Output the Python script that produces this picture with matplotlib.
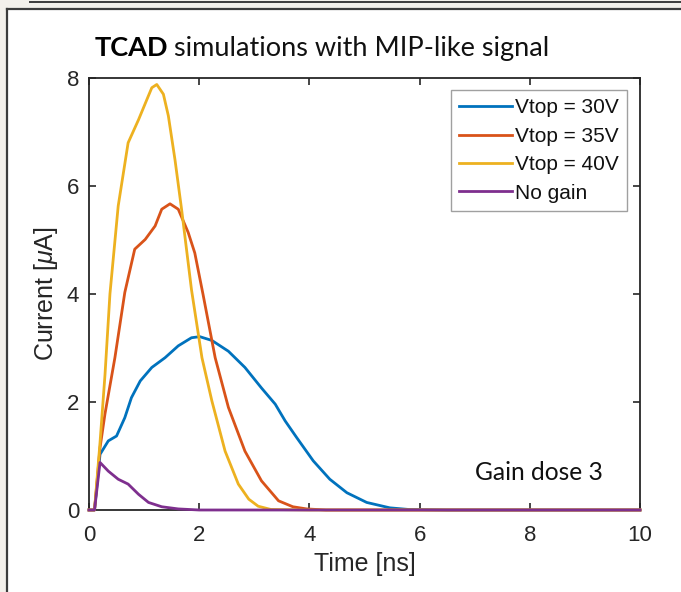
import matplotlib
matplotlib.use('Agg')
import matplotlib.pyplot as plt
from matplotlib.patches import Rectangle
from matplotlib.lines import Line2D

plt.rcParams['font.family'] = ['Liberation Sans', 'DejaVu Sans']
plt.rcParams['mathtext.fontset'] = 'custom'
plt.rcParams['mathtext.it'] = 'Liberation Sans:italic'
plt.rcParams['mathtext.rm'] = 'Liberation Sans'

# data (time in ns, current in uA)
t_30 = [0, 0.1, 0.2, 0.35, 0.5, 0.65, 0.77, 0.93, 1.14, 1.38, 1.62, 1.86, 2.01, 2.23,
        2.53, 2.83, 3.13, 3.38, 3.56, 3.77, 4.07, 4.37, 4.68, 5.04, 5.46, 5.8, 6.5, 8, 10]
i_30 = [0, 0, 1.03, 1.28, 1.37, 1.71, 2.08, 2.39, 2.64, 2.82, 3.04, 3.19, 3.21, 3.14,
        2.94, 2.64, 2.26, 1.96, 1.65, 1.34, 0.91, 0.57, 0.32, 0.14, 0.04, 0.01, 0, 0, 0]

t_35 = [0, 0.1, 0.2, 0.29, 0.47, 0.65, 0.83, 1.02, 1.20, 1.32, 1.47, 1.62, 1.80, 1.92,
        2.07, 2.29, 2.53, 2.83, 3.13, 3.44, 3.7, 3.95, 4.3, 6, 10]
i_35 = [0, 0, 1.15, 1.78, 2.82, 4.03, 4.83, 5.01, 5.26, 5.57, 5.67, 5.57, 5.14, 4.76,
        3.99, 2.82, 1.9, 1.09, 0.54, 0.17, 0.06, 0.02, 0, 0, 0]

t_40 = [0, 0.1, 0.2, 0.29, 0.38, 0.53, 0.71, 0.90, 1.05, 1.14, 1.23, 1.35, 1.44, 1.56,
        1.68, 1.86, 2.05, 2.23, 2.47, 2.71, 2.9, 3.07, 3.3, 4, 10]
i_40 = [0, 0, 1.25, 2.5, 4.0, 5.63, 6.8, 7.23, 7.6, 7.82, 7.88, 7.70, 7.30, 6.49,
        5.57, 4.08, 2.82, 2.02, 1.09, 0.48, 0.2, 0.07, 0.01, 0, 0]

t_ng = [0, 0.1, 0.2, 0.35, 0.53, 0.71, 0.90, 1.08, 1.32, 1.62, 2.0, 10]
i_ng = [0, 0, 0.88, 0.72, 0.57, 0.48, 0.29, 0.14, 0.06, 0.02, 0, 0]

labels = ['Vtop = 30V', 'Vtop = 35V', 'Vtop = 40V', 'No gain']
colors = ['#0072BD', '#D95319', '#EDB120', '#7E2F8E']
xticks = [0, 2, 4, 6, 8, 10]
yticks = [0, 2, 4, 6, 8]

W, H = 681, 592
fig = plt.figure(figsize=(W / 100, H / 100), dpi=100)
fig.patch.set_facecolor('white')

# slide frame around the chart
beige = '#f3f0eb'
dark = '#3c3c3c'
fig.add_artist(Rectangle((0, 0), 6 / W, 1, transform=fig.transFigure, color=beige, lw=0))
fig.add_artist(Rectangle((0, 1 - 8 / H), 1, 8 / H, transform=fig.transFigure, color=beige, lw=0))
fig.add_artist(Line2D([7 / W, 7 / W], [0, 1 - 9 / H], transform=fig.transFigure, color=dark, lw=1.6))
fig.add_artist(Line2D([7 / W, 1], [1 - 9 / H, 1 - 9 / H], transform=fig.transFigure, color=dark, lw=1.6))
fig.add_artist(Line2D([30 / W, 1], [1 - 1.5 / H, 1 - 1.5 / H], transform=fig.transFigure, color=dark, lw=1.4))

ax = fig.add_axes([89 / W, 1 - 510 / H, 551 / W, 432 / H])

series = [(t_30, i_30), (t_35, i_35), (t_40, i_40), (t_ng, i_ng)]
for (t, i), lab, c in zip(series, labels, colors):
    ax.plot(t, i, color=c, lw=2.0, label=lab, clip_on=False, zorder=3)

ax.set_xlim(0, 10)
ax.set_ylim(0, 8)
ax.set_xticks(xticks)
ax.set_yticks(yticks)
ax.tick_params(direction='in', length=5, width=1.2, top=True, right=True,
               labelsize=16, colors='#262626')
ax.tick_params(axis='y', pad=7)
ax.tick_params(axis='x', pad=11)
for s in ax.spines.values():
    s.set_linewidth(1.3)
    s.set_color('#262626')

ax.set_xlabel('Time [ns]', fontsize=18, color='#262626', labelpad=4)
ax.set_ylabel(r'Current [$\mu$A]', fontsize=18, color='#262626', labelpad=5)

leg = ax.legend(loc='upper right', bbox_to_anchor=(0.976, 0.972), borderaxespad=0,
                fontsize=15, handlelength=2.5, handletextpad=0.15, labelspacing=0.45,
                borderpad=0.4, fancybox=False, framealpha=1, edgecolor='#a0a0a0')
leg.get_frame().set_linewidth(1.0)
for txt in leg.get_texts():
    txt.set_color('#111111')

# title drawn as slide text: bold word + regular rest
tfont = ['Lato', 'DejaVu Sans']
t1 = fig.text(95 / W, 1 - 55.7 / H, 'TCAD', fontsize=19.5, fontweight='bold',
              family=tfont, va='baseline', ha='left', color='black')
fig.canvas.draw()
bb = t1.get_window_extent(fig.canvas.get_renderer())
fig.text((bb.x1 + 5) / W, 1 - 55.7 / H, 'simulations with MIP-like signal', fontsize=19.5,
         family=tfont, va='baseline', ha='left', color='#111111')

fig.text(475 / W, 1 - 480 / H, 'Gain dose 3', fontsize=17.7, family=tfont,
         va='baseline', ha='left', color='#111111')

fig.savefig('out.png', dpi=100)
